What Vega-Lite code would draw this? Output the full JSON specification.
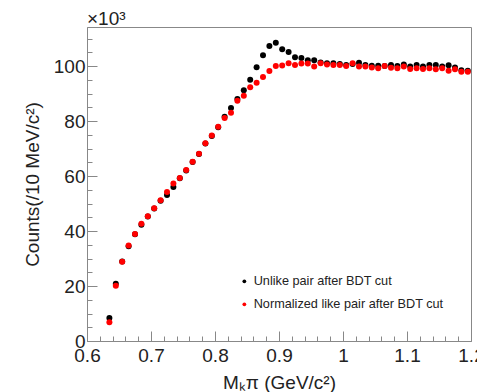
{
  "$schema": "https://vega.github.io/schema/vega-lite/v6.json",
  "width": 384,
  "height": 314,
  "autosize": {"type": "none"},
  "padding": {"left": 87, "top": 27, "right": 6, "bottom": 51},
  "config": {
    "view": {"stroke": "#888", "strokeWidth": 1},
    "font": "Liberation Sans",
    "axis": {
      "grid": false,
      "domainColor": "#888",
      "tickColor": "#888",
      "labelColor": "#222",
      "titleColor": "#222",
      "labelFontSize": 19,
      "titleFontSize": 19,
      "titleFontWeight": "normal",
      "labelFont": "Liberation Sans",
      "titleFont": "Liberation Sans"
    }
  },
  "title": {
    "text": "×10³",
    "anchor": "start",
    "frame": "group",
    "fontSize": 19,
    "fontWeight": "normal",
    "font": "Liberation Sans",
    "color": "#222",
    "baseline": "bottom",
    "offset": 0,
    "dy": 21
  },
  "data": {
    "values": [
      {"m": 0.635, "unlike": 8.4, "like": 6.8},
      {"m": 0.645, "unlike": 20.8, "like": 20.1},
      {"m": 0.655, "unlike": 28.9, "like": 28.8},
      {"m": 0.665, "unlike": 34.5, "like": 34.7},
      {"m": 0.675, "unlike": 38.8, "like": 38.9},
      {"m": 0.685, "unlike": 42.3, "like": 42.6},
      {"m": 0.695, "unlike": 45.3, "like": 45.4},
      {"m": 0.705, "unlike": 48.2, "like": 48.3},
      {"m": 0.715, "unlike": 51.0, "like": 51.2},
      {"m": 0.725, "unlike": 53.1, "like": 54.2},
      {"m": 0.735, "unlike": 56.0, "like": 57.3},
      {"m": 0.745, "unlike": 59.2, "like": 59.3},
      {"m": 0.755, "unlike": 62.0, "like": 62.2},
      {"m": 0.765, "unlike": 65.1, "like": 65.2},
      {"m": 0.775, "unlike": 68.0, "like": 68.1},
      {"m": 0.785, "unlike": 71.8, "like": 71.9},
      {"m": 0.795, "unlike": 74.6, "like": 74.7},
      {"m": 0.805, "unlike": 77.7, "like": 77.9},
      {"m": 0.815, "unlike": 81.6, "like": 81.1},
      {"m": 0.825, "unlike": 84.7, "like": 83.0},
      {"m": 0.835, "unlike": 88.0, "like": 87.4},
      {"m": 0.845, "unlike": 91.2, "like": 89.2},
      {"m": 0.855, "unlike": 95.0, "like": 92.3},
      {"m": 0.865, "unlike": 99.6, "like": 93.9},
      {"m": 0.875, "unlike": 103.9, "like": 96.0},
      {"m": 0.885, "unlike": 107.3, "like": 98.2},
      {"m": 0.895, "unlike": 108.5, "like": 100.0},
      {"m": 0.905, "unlike": 106.1, "like": 100.2},
      {"m": 0.915, "unlike": 105.1, "like": 101.0},
      {"m": 0.925, "unlike": 103.2, "like": 100.4},
      {"m": 0.935, "unlike": 102.9, "like": 100.9},
      {"m": 0.945, "unlike": 102.1, "like": 100.9},
      {"m": 0.955, "unlike": 102.1, "like": 99.8},
      {"m": 0.965, "unlike": 101.3, "like": 101.0},
      {"m": 0.975, "unlike": 101.0, "like": 100.6},
      {"m": 0.985, "unlike": 101.0, "like": 100.4},
      {"m": 0.995, "unlike": 100.7, "like": 100.4},
      {"m": 1.005, "unlike": 100.4, "like": 100.0},
      {"m": 1.015, "unlike": 100.7, "like": 101.0},
      {"m": 1.025, "unlike": 101.2, "like": 99.8},
      {"m": 1.035, "unlike": 100.4, "like": 99.8},
      {"m": 1.045, "unlike": 100.1, "like": 99.5},
      {"m": 1.055, "unlike": 100.1, "like": 99.2},
      {"m": 1.065, "unlike": 100.0, "like": 100.0},
      {"m": 1.075, "unlike": 100.4, "like": 99.4},
      {"m": 1.085, "unlike": 100.0, "like": 99.2},
      {"m": 1.095, "unlike": 100.6, "like": 99.8},
      {"m": 1.105, "unlike": 99.8, "like": 98.9},
      {"m": 1.115, "unlike": 100.4, "like": 99.2},
      {"m": 1.125, "unlike": 99.8, "like": 98.9},
      {"m": 1.135, "unlike": 100.4, "like": 99.2},
      {"m": 1.145, "unlike": 100.4, "like": 98.8},
      {"m": 1.155, "unlike": 99.8, "like": 99.2},
      {"m": 1.165, "unlike": 100.3, "like": 98.3},
      {"m": 1.175, "unlike": 99.5, "like": 98.8},
      {"m": 1.185, "unlike": 98.5, "like": 97.9},
      {"m": 1.195, "unlike": 98.3, "like": 97.9}
    ]
  },
  "layer": [
    {
      "mark": {"type": "point", "filled": true, "size": 36, "opacity": 1},
      "encoding": {
        "x": {
          "field": "m",
          "type": "quantitative",
          "scale": {"domain": [0.6, 1.2], "nice": false, "zero": false},
          "axis": {
            "values": [0.6, 0.7, 0.8, 0.9, 1, 1.1, 1.2],
            "format": "~g",
            "tickSize": -10,
            "labelPadding": 15.5,
            "labelFlush": false,
            "labelOverlap": false,
            "title": "Mₖπ (GeV/c²)",
            "titleY": 47,
            "titleBaseline": "alphabetic"
          }
        },
        "y": {
          "field": "unlike",
          "type": "quantitative",
          "scale": {"domain": [0, 114.2], "nice": false, "zero": false},
          "axis": {
            "values": [0, 20, 40, 60, 80, 100],
            "tickSize": -10,
            "labelPadding": 12,
            "labelFlush": false,
            "labelOverlap": false,
            "title": "Counts(/10 MeV/c²)",
            "titleX": -49,
            "titleBaseline": "alphabetic"
          }
        },
        "color": {
          "datum": "Unlike pair after BDT cut",
          "scale": {
            "domain": ["Unlike pair after BDT cut", "Normalized like pair after BDT cut"],
            "range": ["#000000", "#ff0000"]
          },
          "legend": {
            "orient": "none",
            "legendX": 151,
            "legendY": 248,
            "title": null,
            "padding": 0,
            "symbolType": "circle",
            "symbolSize": 14,
            "symbolStrokeWidth": 0,
            "labelFont": "Liberation Sans",
            "labelFontSize": 12.7,
            "labelColor": "#222",
            "labelOffset": 3,
            "labelLimit": 0,
            "rowPadding": 9
          }
        }
      }
    },
    {
      "mark": {"type": "point", "filled": true, "size": 36, "opacity": 1},
      "encoding": {
        "x": {
          "field": "m",
          "type": "quantitative",
          "axis": {
            "orient": "bottom",
            "values": [0.62, 0.64, 0.66, 0.68, 0.72, 0.74, 0.76, 0.78, 0.82, 0.84, 0.86, 0.88, 0.92, 0.94, 0.96, 0.98, 1.02, 1.04, 1.06, 1.08, 1.12, 1.14, 1.16, 1.18],
            "tickSize": -5,
            "labels": false,
            "domain": false,
            "title": null
          }
        },
        "y": {
          "field": "like",
          "type": "quantitative",
          "axis": {
            "orient": "left",
            "values": [5, 10, 15, 25, 30, 35, 45, 50, 55, 65, 70, 75, 85, 90, 95, 105, 110],
            "tickSize": -5,
            "labels": false,
            "domain": false,
            "title": null
          }
        },
        "color": {"datum": "Normalized like pair after BDT cut"}
      }
    }
  ],
  "resolve": {"axis": {"x": "independent", "y": "independent"}}
}
